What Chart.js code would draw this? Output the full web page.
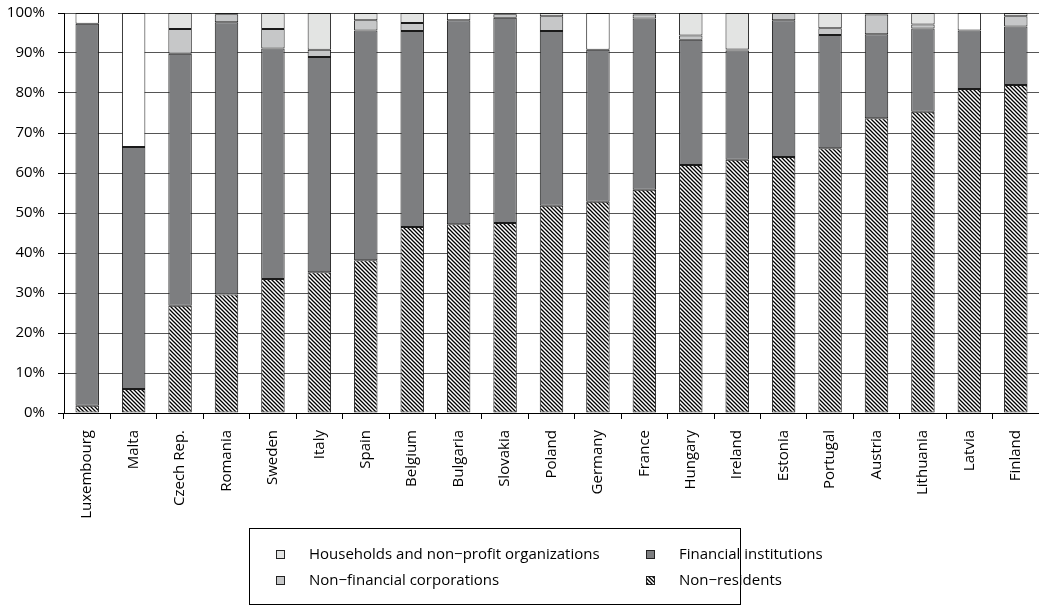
<!DOCTYPE html>
<html><head><meta charset="utf-8">
<script src="https://cdn.jsdelivr.net/npm/chart.js@4.4.0/dist/chart.umd.min.js"></script>
<style>html,body{margin:0;padding:0;background:#fff}#wrap{width:1039px;height:605px;position:relative}</style>
</head><body><div id="wrap"><canvas id="c" width="1039" height="605"></canvas></div>
<script>
const countries = ["Luxembourg","Malta","Czech Rep.","Romania","Sweden","Italy","Spain","Belgium","Bulgaria","Slovakia","Poland","Germany","France","Hungary","Ireland","Estonia","Portugal","Austria","Lithuania","Latvia","Finland"];
const nonResidents = [1.8, 6.0, 26.8, 29.6, 33.5, 35.2, 38.2, 46.5, 47.2, 47.5, 51.8, 52.8, 55.8, 62.0, 63.3, 64.0, 66.2, 73.7, 75.3, 81.0, 82.0];
const financialInstitutions = [95.5, 60.5, 63.0, 68.1, 57.6, 53.8, 57.4, 49.0, 51.0, 51.3, 43.7, 38.0, 42.8, 31.3, 27.3, 34.2, 28.3, 21.0, 20.8, 14.6, 14.6];
const nonFinancialCorporations = [0, 0, 6.2, 2.0, 4.9, 1.8, 2.6, 2.0, 0, 0.9, 3.7, 0, 1.0, 1.1, 0.3, 1.8, 1.7, 4.9, 1.0, 0, 2.6];
const households = [0, 0, 4.0, 0.3, 4.0, 9.2, 1.8, 2.5, 0, 0.25, 0.8, 0, 0.4, 5.6, 9.1, 0, 3.8, 0.4, 2.9, 0, 0.8];
const unallocated = [2.7, 33.5, 0, 0, 0, 0, 0, 0, 1.8, 0, 0, 9.2, 0, 0, 0, 0, 0, 0, 0, 4.4, 0];
const yTicks = [0, 10, 20, 30, 40, 50, 60, 70, 80, 90, 100];
const legendLabels = ["Households and non\u2212profit organizations", "Financial institutions", "Non\u2212financial corporations", "Non\u2212residents"];

const FONT = "'Open Sans', 'Noto Sans', sans-serif";
function hatch(){
  const s = 4, c = document.createElement('canvas'); c.width = s; c.height = s;
  const g = c.getContext('2d');
  g.fillStyle = '#fff'; g.fillRect(0,0,s,s);
  g.strokeStyle = '#000'; g.lineWidth = 1.3; g.beginPath();
  g.moveTo(-1,-1); g.lineTo(s+1,s+1);
  g.moveTo(-1,s-1); g.lineTo(1,s+1);
  g.moveTo(s-1,-1); g.lineTo(s+1,1);
  g.stroke();
  return g.createPattern(c,'repeat');
}
const nz = a => a.map(v => v === 0 ? null : v);
const hatchPat = hatch();
const colHH = '#e3e4e3', colFI = '#7d7e80', colNFC = '#c6c7c8', colOther = '#ffffff';
const common = {borderColor:'#1a1a1a', borderWidth:1, borderSkipped:false, barPercentage:0.505, categoryPercentage:1};

const legendItems = [
  {text: legendLabels[0], fill: colHH, col:0, row:0},
  {text: legendLabels[1], fill: colFI, col:1, row:0},
  {text: legendLabels[2], fill: colNFC, col:0, row:1},
  {text: legendLabels[3], fill: hatchPat, col:1, row:1}
];
const customLegend = {
  id:'customLegend',
  afterDraw(chart){
    const ctx = chart.ctx; ctx.save();
    ctx.strokeStyle = '#000'; ctx.lineWidth = 1;
    ctx.strokeRect(249.5, 528.5, 491, 76);
    ctx.font = '15px ' + FONT; ctx.textBaseline = 'middle';
    legendItems.forEach(it => {
      const sx = it.col ? 646 : 276, sy = it.row ? 576 : 550;
      ctx.fillStyle = it.fill; ctx.fillRect(sx, sy, 9, 9);
      ctx.strokeStyle = '#222'; ctx.strokeRect(sx+0.5, sy+0.5, 8, 8);
      ctx.fillStyle = '#000';
      ctx.fillText(it.text, it.col ? 679 : 309, sy + 4.5);
    });
    ctx.restore();
  }
};

new Chart(document.getElementById('c'), {
  type:'bar',
  data:{ labels: countries, datasets:[
    Object.assign({label:legendLabels[3], data:nz(nonResidents), backgroundColor:hatchPat}, common),
    Object.assign({label:legendLabels[1], data:nz(financialInstitutions), backgroundColor:colFI}, common),
    Object.assign({label:legendLabels[2], data:nz(nonFinancialCorporations), backgroundColor:colNFC}, common),
    Object.assign({label:legendLabels[0], data:nz(households), backgroundColor:colHH}, common),
    Object.assign({label:'Other', data:nz(unallocated), backgroundColor:colOther}, common)
  ]},
  options:{
    responsive:false, animation:false, devicePixelRatio:1,
    layout:{padding:{left:6, right:0, top:13, bottom:0}},
    plugins:{legend:{display:false}, tooltip:{enabled:false}},
    scales:{
      x:{stacked:true,
        afterFit: s => { s.height = 192; s.paddingLeft = 0; s.paddingRight = 0; },
        grid:{display:true, drawOnChartArea:false, drawTicks:true, tickLength:6, color:'#000'},
        border:{display:true, color:'#000', width:1},
        ticks:{maxRotation:90, minRotation:90, autoSkip:false, padding:11, color:'#000', font:{family:FONT, size:15}}},
      y:{stacked:true, min:0, max:100,
        afterFit: s => { s.width = 58; s.paddingTop = 0; s.paddingBottom = 0; },
        afterBuildTicks: s => { s.ticks = yTicks.map(v => ({value:v})); },
        grid:{color:'#555', tickLength:6, tickColor:'#000'},
        border:{display:true, color:'#000', width:1},
        ticks:{callback:v => v + '%', padding:13, color:'#000', font:{family:FONT, size:15}}}
    }
  },
  plugins:[customLegend]
});
</script></body></html>
